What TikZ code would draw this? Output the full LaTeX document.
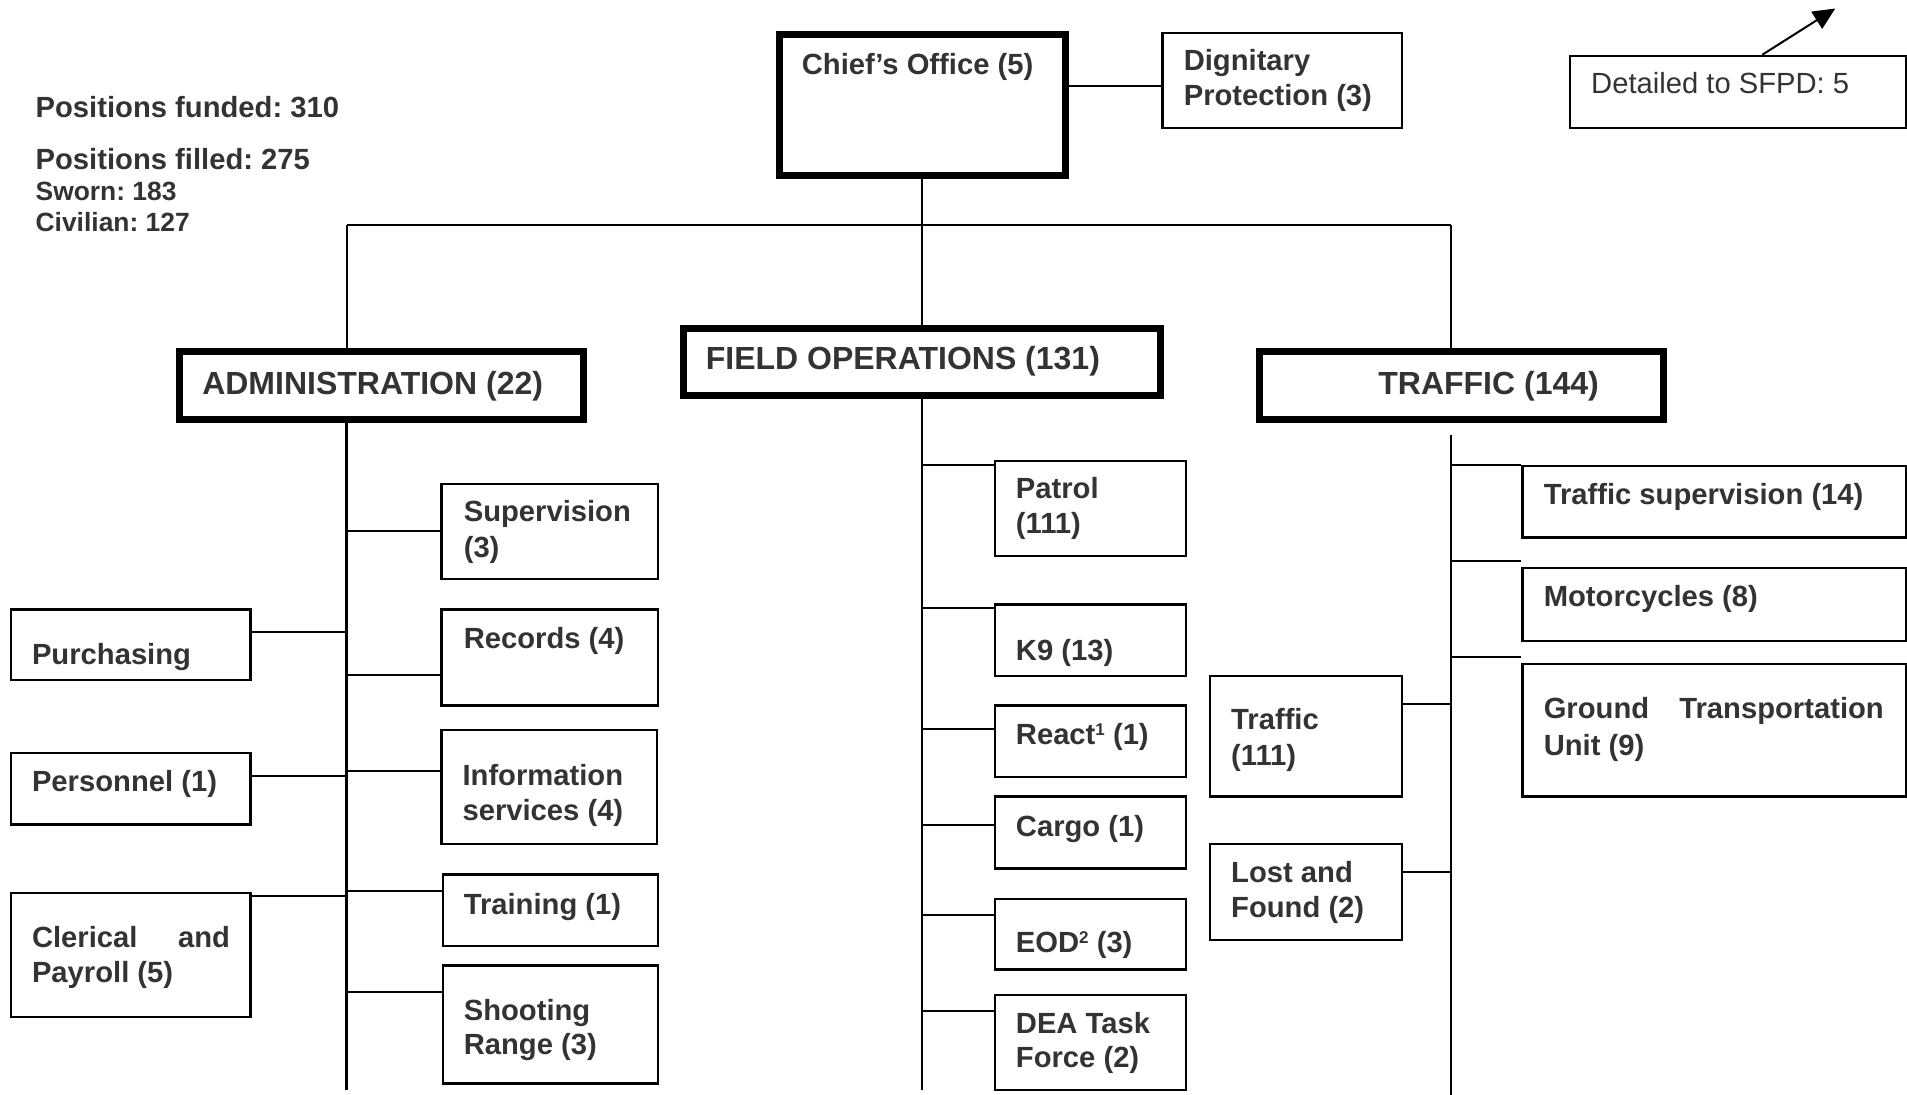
\documentclass[tikz,border=0pt]{standalone}
\usepackage{fontspec}
\setmainfont{Liberation Sans}
\usetikzlibrary{fit,calc,arrows.meta}
\definecolor{txtgray}{RGB}{51,51,51}
\frenchspacing
\begin{document}
\begin{tikzpicture}[x=0.6081pt,y=-0.6081pt,
  thickbox/.style={draw=black,line width=3.5pt,inner sep=0pt},
  thinbox/.style={draw=black,line width=1.2pt,inner sep=0pt},
  conn/.style={draw=black,line width=1pt},
  trunkline/.style={draw=black,line width=1.2pt},
  txt/.style={anchor=base west,inner sep=0pt,text=txtgray,font=\fontsize{14.6}{17.5}\selectfont\bfseries},
  headtxt/.style={txt,font=\fontsize{16}{19}\selectfont\bfseries},
  smalltxt/.style={txt,font=\fontsize{13.2}{15.8}\selectfont\bfseries},
  plaintxt/.style={txt,font=\fontsize{14.6}{17.5}\selectfont}]
\useasboundingbox (0,0) rectangle (1568,900);
\newcommand\supnum[1]{\raisebox{4.2pt}{\fontsize{8.5}{9}\selectfont #1}}

% ---------- boxes ----------
\node[thickbox, fit={(641,28) (876,144)}] (chief) {};
\node[thinbox, fit={(956,27) (1153,105)}] (dign) {};
\node[thinbox, fit={(1291,46) (1567,105)}] (det) {};
\node[thickbox, fit={(148,289) (480,345)}] (admin) {};
\node[thickbox, fit={(562,270) (954,325)}] (field) {};
\node[thickbox, fit={(1036,289) (1368,345)}] (traf) {};
% admin right
\node[thinbox, fit={(363,398) (541,476)}] (sup) {};
\node[thinbox, fit={(363,501) (541,580)}] (rec) {};
\node[thinbox, fit={(363,600) (540,694)}] (info) {};
\node[thinbox, fit={(364,719) (541,778)}] (train) {};
\node[thinbox, fit={(364,794) (541,891)}] (shoot) {};
% admin left
\node[thinbox, fit={(9,501) (206,559)}] (purch) {};
\node[thinbox, fit={(9,619) (206,678)}] (pers) {};
\node[thinbox, fit={(9,734) (206,836)}] (cler) {};
% field
\node[thinbox, fit={(818,379) (975,457)}] (patrol) {};
\node[thinbox, fit={(818,497) (975,556)}] (kn) {};
\node[thinbox, fit={(818,580) (975,639)}] (react) {};
\node[thinbox, fit={(818,655) (975,714)}] (cargo) {};
\node[thinbox, fit={(818,739) (975,797)}] (eod) {};
\node[thinbox, fit={(818,818) (975,896)}] (dea) {};
% traffic right
\node[thinbox, fit={(1252,383) (1567,442)}] (tsup) {};
\node[thinbox, fit={(1252,467) (1567,527)}] (moto) {};
\node[thinbox, fit={(1252,546) (1567,655)}] (gtu) {};
% traffic left
\node[thinbox, fit={(995,556) (1153,655)}] (tsub) {};
\node[thinbox, fit={(995,694) (1153,773)}] (lost) {};

% ---------- texts ----------
\node[txt] (t-chief) at (659,61) {Chief’s Office (5)};
\node[txt] (t-dig1) at (973,58) {Dignitary};
\node[txt] (t-dig2) at (973,87) {Protection (3)};
\node[plaintxt] (t-det) at (1308,77) {Detailed to SFPD: 5};
\node[txt] (t-fund) at (29,97) {Positions funded: 310};
\node[txt] (t-fill) at (29,139) {Positions filled: 275};
\node[smalltxt] (t-sworn) at (29,165) {Sworn: 183};
\node[smalltxt] (t-civ) at (29,190) {Civilian: 127};
\node[headtxt] (t-field) at (580,304) {FIELD OPERATIONS (131)};
\node[headtxt] (t-admin) at (166,324) {ADMINISTRATION (22)};
\node[headtxt] (t-traf) at (1133,324) {TRAFFIC (144)};

\node[txt] (t-sup1) at (381,429) {Supervision};
\node[txt] (t-sup2) at (381,458) {(3)};
\node[txt] (t-rec) at (381,533) {Records (4)};
\node[txt] (t-info1) at (380,646) {Information};
\node[txt] (t-info2) at (380,675) {services (4)};
\node[txt] (t-train) at (381,752) {Training (1)};
\node[txt] (t-shoot1) at (381,839) {Shooting};
\node[txt] (t-shoot2) at (381,867) {Range (3)};

\node[txt] (t-purch) at (26,546) {Purchasing};
\node[txt] (t-pers) at (26,651) {Personnel (1)};
\node[txt] (t-cler1) at (26,779) {\makebox[99pt][s]{Clerical and}};
\node[txt] (t-cler2) at (26,808) {Payroll (5)};

\node[txt] (t-pat1) at (835,410) {Patrol};
\node[txt] (t-pat2) at (835,439) {(111)};
\node[txt] (t-kn) at (835,543) {K9 (13)};
\node[txt] (t-react) at (835,612) {React\supnum{1} (1)};
\node[txt] (t-cargo) at (835,688) {Cargo (1)};
\node[txt] (t-eod) at (835,783) {EOD\supnum{2} (3)};
\node[txt] (t-dea1) at (835,850) {DEA Task};
\node[txt] (t-dea2) at (835,878) {Force (2)};

\node[txt] (t-tsup) at (1269,415) {Traffic supervision (14)};
\node[txt] (t-moto) at (1269,499) {Motorcycles (8)};
\node[txt] (t-gtu1) at (1269,591) {\makebox[170pt][s]{Ground Transportation}};
\node[txt] (t-gtu2) at (1269,621) {Unit (9)};

\node[txt] (t-tsub1) at (1012,600) {Traffic};
\node[txt] (t-tsub2) at (1012,629) {(111)};
\node[txt] (t-lost1) at (1012,726) {Lost and};
\node[txt] (t-lost2) at (1012,754) {Found (2)};

% ---------- connectors ----------
\coordinate (j-dig) at (915,71);
\draw[conn] (chief.east |- j-dig) -- (dign.west |- j-dig);

\coordinate (arrtip) at (1509,7);
\draw[conn,-{Triangle[length=11pt,width=10pt]}] ($(det.north west)!0.572!(det.north east)$) -- (arrtip);

\coordinate (hbL) at (285,185);
\coordinate (hbM) at (758,185);
\coordinate (hbR) at (1193,185);
\draw[conn] (chief.south) -- (chief.south |- hbM);
\draw[conn] (hbL) -- (hbR);
\draw[conn] (hbL) -- (hbL |- admin.north);
\draw[conn] (hbM) -- (field.north);
\draw[conn] (hbR) -- (hbR |- traf.north);

% trunks
\coordinate (aBot) at (285,896);
\coordinate (fBot) at (758,896);
\coordinate (tTop) at (1193,358);
\coordinate (tBot) at (1193,900);
\draw[trunkline] (aBot |- admin.south) -- (aBot);
\draw[trunkline] (field.south) -- (fBot);
\draw[trunkline] (tTop) -- (tBot);

% admin branches
\coordinate (j-sup) at (285,437);
\coordinate (j-rec) at (285,555);
\coordinate (j-info) at (285,634);
\coordinate (j-train) at (285,733);
\coordinate (j-shoot) at (285,816);
\coordinate (j-purch) at (285,520);
\coordinate (j-pers) at (285,638);
\coordinate (j-cler) at (285,737);
\foreach \j/\b in {sup/sup,rec/rec,info/info,train/train,shoot/shoot}
  \draw[conn] (j-\j) -- (j-\j -| \b.west);
\foreach \j/\b in {purch/purch,pers/pers,cler/cler}
  \draw[conn] (j-\j) -- (j-\j -| \b.east);

% field branches
\coordinate (j-patrol) at (758,382);
\coordinate (j-kn) at (758,500);
\coordinate (j-react) at (758,599);
\coordinate (j-cargo) at (758,678);
\coordinate (j-eod) at (758,752);
\coordinate (j-dea) at (758,831);
\foreach \b in {patrol,kn,react,cargo,eod,dea}
  \draw[conn] (j-\b) -- (j-\b -| \b.west);

% traffic branches
\coordinate (j-tsup) at (1193,382);
\coordinate (j-moto) at (1193,461);
\coordinate (j-gtu) at (1193,540);
\coordinate (j-tsub) at (1193,579);
\coordinate (j-lost) at (1193,717);
\foreach \b in {tsup,moto,gtu}
  \draw[conn] (j-\b) -- (j-\b -| \b.west);
\foreach \b in {tsub,lost}
  \draw[conn] (j-\b) -- (j-\b -| \b.east);
\end{tikzpicture}
\end{document}
